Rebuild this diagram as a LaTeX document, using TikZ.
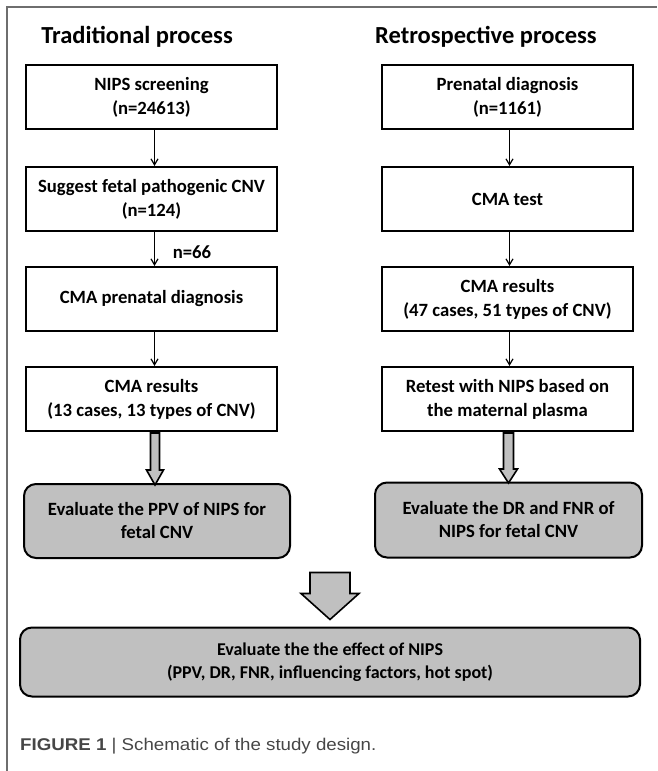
\documentclass[tikz,border=0pt]{standalone}
\usepackage{fontspec}
\setmainfont{Carlito}
\newfontfamily\capfont[FakeStretch=1.1]{Liberation Sans}
\usetikzlibrary{calc,arrows.meta}
\definecolor{boxgray}{RGB}{192,192,192}
\definecolor{framegray}{RGB}{110,110,110}
\definecolor{capgray}{RGB}{70,70,70}
\begin{document}
\begin{tikzpicture}[x=1pt,y=-1pt,
  box/.style={draw=black,line width=2pt,fill=white,minimum width=251pt,minimum height=64pt,
    align=center,inner sep=0pt,font=\fontsize{18.7}{24}\selectfont\bfseries},
  grybox/.style={draw=black,line width=2pt,fill=boxgray,rounded corners=12pt,
    align=center,inner sep=0pt,font=\fontsize{18.7}{23}\selectfont\bfseries},
  title/.style={font=\fontsize{24.5}{28}\selectfont\bfseries,inner sep=0pt},
  thinarrow/.style={line width=1.2pt,-{Straight Barb[length=6pt,width=7pt]}},
  fatarrow/.style={draw=black,line width=1.6pt,fill=boxgray,line join=miter}]
\useasboundingbox (0,0) rectangle (657,771);
\draw[framegray,line width=1.5pt] (7,771) -- (7,7) -- (657,7);

\node[title] (tl) at (137,37) {Traditional process};
\node[title] (tr) at (486,37) {Retrospective process};

\node[box] (L1) at (151.5,97) {NIPS screening\\(n=24613)};
\node[box] (L2) at (151.5,199) {Suggest fetal pathogenic CNV\\(n=124)};
\node[box] (L3) at (151.5,299) {CMA prenatal diagnosis};
\node[box] (L4) at (151.5,399) {CMA results\\(13 cases, 13 types of CNV)};
\node[grybox,minimum width=266pt,minimum height=74pt] (LG) at (157,521) {Evaluate the PPV of NIPS for\\fetal CNV};

\node[box] (R1) at (507.5,97) {Prenatal diagnosis\\(n=1161)};
\node[box] (R2) at (507.5,199) {CMA test};
\node[box] (R3) at (507.5,299) {CMA results\\(47 cases, 51 types of CNV)};
\node[box] (R4) at (507.5,399) {Retest with NIPS based on\\the maternal plasma};
\node[grybox,minimum width=267pt,minimum height=75pt] (RG) at (508.5,520) {Evaluate the DR and FNR of\\NIPS for fetal CNV};

\node[grybox,minimum width=620pt,minimum height=69pt,font=\fontsize{18}{23}\selectfont\bfseries] (B) at (330,662) {Evaluate the the effect of NIPS\\(PPV, DR, FNR, influencing factors, hot spot)};

\draw[thinarrow] ([xshift=3pt]L1.south) -- ([xshift=3pt]L2.north);
\draw[thinarrow] ([xshift=3pt]L2.south) -- ([xshift=3pt]L3.north);
\draw[thinarrow] ([xshift=3pt]L3.south) -- ([xshift=3pt]L4.north);
\node[font=\fontsize{18.7}{22}\selectfont\bfseries,inner sep=0pt] (n66) at (192,252) {n=66};

\draw[thinarrow] ([xshift=2pt]R1.south) -- ([xshift=2pt]R2.north);
\draw[thinarrow] ([xshift=2pt]R2.south) -- ([xshift=2pt]R3.north);
\draw[thinarrow] ([xshift=2pt]R3.south) -- ([xshift=2pt]R4.north);

\coordinate (la) at ($(L4.south)+(3.5,1)$);
\draw[fatarrow] ($(la)+(-4.5,0)$) -- ($(la)+(4.5,0)$) -- ($(la)+(4.5,37)$) -- ($(la)+(8.5,37)$)
  -- ($(la)+(0,52)$) -- ($(la)+(-8.5,37)$) -- ($(la)+(-4.5,37)$) -- cycle;
\coordinate (ra) at ($(R4.south)+(1,1)$);
\draw[fatarrow] ($(ra)+(-5,0)$) -- ($(ra)+(5,0)$) -- ($(ra)+(5,36)$) -- ($(ra)+(9,36)$)
  -- ($(ra)+(0,50)$) -- ($(ra)+(-9,36)$) -- ($(ra)+(-5,36)$) -- cycle;

\coordinate (ba) at (B.north);
\draw[fatarrow] ($(ba)+(-20,-54)$) -- ($(ba)+(20,-54)$) -- ($(ba)+(20,-33)$) -- ($(ba)+(29,-33)$)
  -- ($(ba)+(0,-7)$) -- ($(ba)+(-29,-33)$) -- ($(ba)+(-20,-33)$) -- cycle;

\node[anchor=base west,inner sep=0pt,text=capgray,font=\capfont\fontsize{17}{20}\selectfont] (cap) at (20,750)
  {\textbf{FIGURE 1} | Schematic of the study design.};
\end{tikzpicture}
\end{document}
